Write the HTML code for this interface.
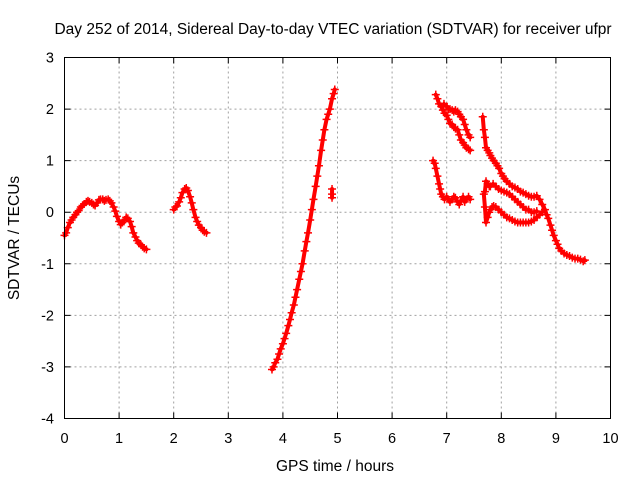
<!DOCTYPE html>
<html><head><meta charset="utf-8"><style>
body{margin:0;background:#fff}
svg{display:block;font-family:"Liberation Sans",sans-serif}
</style></head><body>
<svg id="chart" width="640" height="480" xmlns="http://www.w3.org/2000/svg">
<rect width="640" height="480" fill="#fff"/>
<text x="333" y="34" font-size="15.5" text-anchor="middle">Day 252 of 2014, Sidereal Day-to-day VTEC variation (SDTVAR) for receiver ufpr</text>
<text x="335" y="471" font-size="15.5" text-anchor="middle">GPS time / hours</text>
<text transform="translate(19,238) rotate(-90)" font-size="15.5" text-anchor="middle">SDTVAR / TECUs</text>
<g id="grid"></g>
<g id="ticks"></g>
<g id="marks"></g>
<rect x="64.5" y="57.5" width="546" height="361" fill="none" stroke="#000" stroke-width="1"/>
</svg>
<script>
const xTicks=[0,1,2,3,4,5,6,7,8,9,10];
const yTicks=[-4,-3,-2,-1,0,1,2,3];
const seg1T=[0,0.03,0.06,0.1,0.13,0.16,0.2,0.23,0.26,0.3,0.33,0.36,0.4,0.43,0.46,0.5,0.53,0.56,0.6,0.63,0.66,0.7,0.73,0.76,0.8,0.83,0.86,0.9,0.93,0.96,1.0,1.03,1.06,1.1,1.13,1.16,1.2,1.23,1.26,1.3,1.33,1.36,1.4,1.43,1.46,1.5];
const seg1V=[-0.45,-0.4,-0.3,-0.2,-0.15,-0.1,-0.05,0,0.03,0.1,0.13,0.16,0.2,0.22,0.2,0.18,0.15,0.13,0.18,0.24,0.25,0.25,0.22,0.24,0.25,0.22,0.18,0.1,0.02,-0.08,-0.18,-0.24,-0.2,-0.15,-0.1,-0.12,-0.18,-0.28,-0.4,-0.48,-0.55,-0.6,-0.63,-0.67,-0.7,-0.72];
const seg2T=[2.0,2.03,2.06,2.1,2.13,2.16,2.2,2.23,2.26,2.3,2.33,2.36,2.4,2.43,2.46,2.5,2.53,2.56,2.6];
const seg2V=[0.05,0.1,0.12,0.2,0.28,0.38,0.45,0.47,0.42,0.3,0.18,0.05,-0.1,-0.18,-0.25,-0.3,-0.35,-0.38,-0.4];
const seg3T=[3.8,3.83,3.86,3.9,3.93,3.96,4.0,4.03,4.06,4.1,4.13,4.16,4.2,4.23,4.26,4.3,4.33,4.36,4.4,4.43,4.46,4.5,4.53,4.56,4.6,4.63,4.66,4.7,4.73,4.76,4.8,4.83,4.86,4.9,4.93,4.95];
const seg3V=[-3.05,-3.0,-2.92,-2.85,-2.75,-2.65,-2.55,-2.45,-2.35,-2.2,-2.08,-1.95,-1.8,-1.65,-1.5,-1.3,-1.15,-1.0,-0.75,-0.57,-0.4,-0.15,0.05,0.25,0.5,0.7,0.9,1.2,1.4,1.6,1.8,1.9,2.0,2.2,2.3,2.38];
const outT=[4.9,4.9,4.9];
const outV=[0.45,0.35,0.28];
const trAT=[6.8,6.83,6.86,6.9,6.93,6.96,7.0,7.03,7.06,7.1,7.13,7.16,7.2,7.23,7.26,7.3,7.33,7.36,7.4,7.43];
const trAV=[2.28,2.2,2.1,2.05,1.98,1.92,1.88,1.8,1.72,1.7,1.65,1.62,1.6,1.5,1.4,1.35,1.3,1.25,1.22,1.2];
const trBT=[6.95,7.0,7.03,7.06,7.1,7.13,7.16,7.2,7.23,7.26,7.3,7.33,7.36,7.4,7.43];
const trBV=[2.1,2.05,2.0,2.0,1.98,1.95,1.98,1.95,1.9,1.85,1.8,1.7,1.6,1.5,1.45];
const trCT=[6.75,6.78,6.8,6.83,6.86,6.88,6.9,6.93,6.96,7.0,7.03,7.06,7.1,7.13,7.16,7.2,7.23,7.26,7.3,7.33,7.36,7.4,7.43];
const trCV=[1.0,0.95,0.85,0.7,0.55,0.45,0.35,0.3,0.25,0.3,0.25,0.2,0.25,0.3,0.28,0.2,0.15,0.22,0.3,0.2,0.25,0.3,0.25];
const trDT=[7.66,7.68,7.7,7.72,7.75,7.78,7.8,7.83,7.86,7.9,7.93,7.96,8.0,8.03,8.06,8.1,8.15,8.2,8.25,8.3,8.35,8.4,8.45,8.5,8.55,8.6,8.65,8.7,8.75,8.8,8.83,8.86,8.9,8.93,8.96,9.0,9.03,9.06,9.1,9.15,9.2,9.25,9.3,9.35,9.4,9.45,9.5,9.53];
const trDV=[1.85,1.6,1.45,1.25,1.2,1.15,1.1,1.05,1.0,0.95,0.9,0.85,0.75,0.7,0.65,0.6,0.55,0.5,0.48,0.45,0.4,0.38,0.35,0.32,0.3,0.3,0.32,0.25,0.15,0.05,-0.05,-0.12,-0.25,-0.35,-0.45,-0.55,-0.62,-0.7,-0.75,-0.8,-0.83,-0.85,-0.88,-0.9,-0.9,-0.92,-0.95,-0.93];
const trET=[7.68,7.7,7.72,7.75,7.78,7.8,7.83,7.86,7.9,7.95,8.0,8.05,8.1,8.15,8.2,8.25,8.3,8.35,8.4,8.45,8.5,8.55,8.6,8.65,8.7,8.75];
const trEV=[0.35,0.1,-0.2,-0.1,0.0,0.05,0.1,0.12,0.1,0.05,0.0,-0.05,-0.1,-0.12,-0.15,-0.18,-0.2,-0.2,-0.2,-0.2,-0.2,-0.18,-0.15,-0.1,-0.05,0.0];
const trFT=[7.7,7.72,7.75,7.78,7.8,7.85,7.9,7.95,8.0,8.05,8.1,8.15,8.2,8.25,8.3,8.35,8.4,8.45,8.5,8.55,8.6,8.65];
const trFV=[0.4,0.6,0.55,0.5,0.5,0.55,0.5,0.45,0.42,0.4,0.38,0.35,0.3,0.25,0.2,0.15,0.1,0.05,0.05,0.0,0.0,0.02];
const series=[[seg1T,seg1V],[seg2T,seg2V],[seg3T,seg3V],[outT,outV],[trAT,trAV],[trBT,trBV],[trCT,trCV],[trDT,trDV],[trET,trEV],[trFT,trFV]];

const X0=64.5,X1=610.5,Y0=418.5,Y1=57.5;
function xs(t){return X0+(t-0)/(10-0)*(X1-X0);}
function ys(v){return Y0-(v+4)/(3+4)*(Y0-Y1);}
const NS="http://www.w3.org/2000/svg";
const grid=document.getElementById('grid'),ticks=document.getElementById('ticks'),marks=document.getElementById('marks');
function mk(tag,attrs,parent){const e=document.createElementNS(NS,tag);for(const k in attrs)e.setAttribute(k,attrs[k]);parent.appendChild(e);return e;}
xTicks.forEach(t=>{
  const x=xs(t);
  if(t>0&&t<10){const g=mk('line',{x1:x,y1:Y0,x2:x,y2:Y1,stroke:'#a0a0a0','stroke-dasharray':'2,3'},grid);
  
  }
  const tk=mk('path',{d:`M${x} ${Y0}v-6M${x} ${Y1}v6`,stroke:'#000'},ticks);
  
  
  const l=mk('text',{x:x,y:443,'font-size':'14.5','text-anchor':'middle'},ticks);l.textContent=t;
  
  
});
yTicks.forEach(v=>{
  const y=ys(v);
  if(v>-4&&v<3){const g=mk('line',{x1:X0,y1:y,x2:X1,y2:y,stroke:'#a0a0a0','stroke-dasharray':'2,3'},grid);
  
  }
  const tk=mk('path',{d:`M${X0} ${y}h6M${X1} ${y}h-6`,stroke:'#000'},ticks);
  
  
  const l=mk('text',{x:54,y:y+5,'font-size':'14.5','text-anchor':'end'},ticks);l.textContent=v;
  
  
});
series.forEach(([T,V])=>{
  let ln='',d='';
  for(let i=0;i<T.length;i++){const x=xs(T[i]),y=ys(V[i]);ln+=(i?'L':'M')+x+' '+y;d+=`M${x-4} ${y}h8M${x} ${y-4}v8`;}
  const band=mk('path',{d:ln,stroke:'#ff0000','stroke-width':'4','stroke-linejoin':'round','stroke-linecap':'round',fill:'none'},marks);
  
  
  const p=mk('path',{d:d,stroke:'#ff0000','stroke-width':'1.5',fill:'none'},marks);
  
  
});
</script>
</body></html>
